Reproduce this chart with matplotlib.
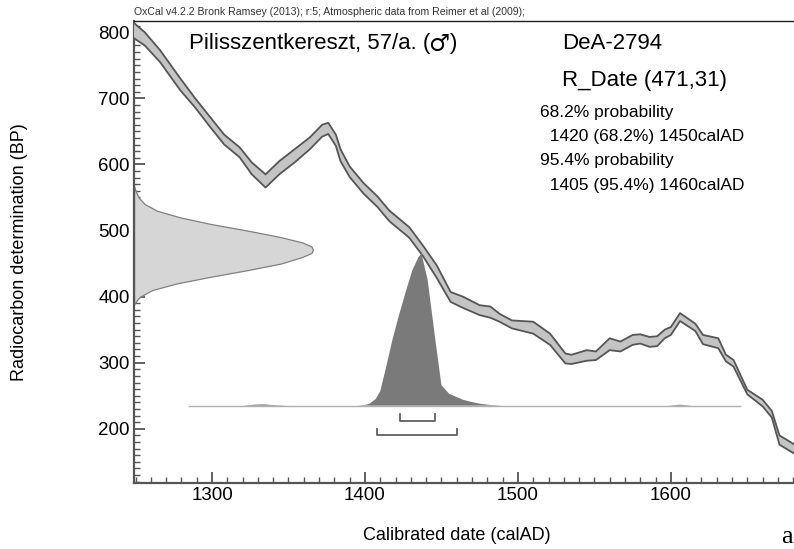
import matplotlib.pyplot as plt
from matplotlib.ticker import MultipleLocator

plt.rcParams['font.family'] = ['Liberation Sans', 'DejaVu Sans']

# calibration curve band (IntCal09)
curve_year = [1249, 1256, 1266, 1279, 1289, 1299, 1308, 1318, 1326, 1335, 1344, 1354,
              1364, 1372, 1376, 1381, 1384, 1390, 1399, 1408, 1416, 1429, 1438, 1447,
              1456, 1464, 1475, 1482, 1488, 1496, 1510, 1521, 1531, 1535, 1545, 1551,
              1560, 1567, 1575, 1580, 1586, 1591, 1596, 1600, 1606, 1616, 1621, 1631,
              1636, 1641, 1650, 1660, 1666, 1671, 1681]
curve_upper = [814, 800, 773, 731, 700, 671, 645, 626, 603, 585, 605, 623,
               641, 660, 663, 645, 623, 597, 572, 552, 530, 505, 477, 447,
               407, 400, 387, 385, 374, 364, 362, 344, 314, 312, 319, 317,
               337, 332, 342, 343, 339, 340, 350, 354, 375, 359, 342, 337,
               312, 304, 259, 244, 227, 190, 176]
curve_lower = [791, 780, 755, 713, 686, 656, 630, 611, 585, 565, 585, 603,
               623, 642, 646, 628, 605, 581, 556, 536, 514, 489, 461, 428,
               392, 383, 372, 368, 362, 352, 344, 327, 299, 298, 303, 304,
               319, 317, 327, 329, 324, 325, 337, 342, 363, 348, 328, 322,
               302, 294, 252, 234, 217, 176, 162]

# radiocarbon measurement R_Date(471,31): width in years from the axis
rdate_bp = [388, 395, 400, 410, 420, 430, 440, 450, 460, 466, 471, 476, 482,
            490, 500, 510, 520, 530, 540, 550, 560, 568]
rdate_w = [0, 2, 4, 12, 28, 50, 74, 96, 110, 116, 117, 116, 110,
           96, 74, 50, 30, 15, 7, 3, 1, 0]

# calibrated probability distribution (height in BP above its baseline)
cal_year = [1285, 1320, 1328, 1333, 1340, 1350, 1395, 1400, 1403, 1407, 1410, 1414,
            1418, 1422, 1427, 1431, 1435, 1437, 1441, 1446, 1450, 1455, 1464, 1469,
            1475, 1482, 1490, 1598, 1606, 1614, 1645]
cal_h = [0, 0, 1.5, 2, 1, 0, 0, 1, 3, 10, 22, 60,
         100, 135, 175, 205, 225, 230, 190, 100, 31, 18, 9, 6,
         3, 1, 0, 0, 1.5, 0, 0]
cal_base = 235

range68 = (1423, 1446)
range95 = (1408, 1460)

fig = plt.figure(figsize=(7.94, 5.49), dpi=100)
ax = fig.add_axes([134 / 794, 66 / 549, 660 / 794, 462 / 549])
ax.set_xlim(1249, 1680.5)
ax.set_ylim(118, 817)

# gaussian of the measurement on the y axis
x0 = 1249
ax.fill_betweenx(rdate_bp, x0, [x0 + w for w in rdate_w],
                 facecolor='#d6d6d6', edgecolor='#808080', lw=0.9, zorder=2)

# calibration curve
ax.fill_between(curve_year, curve_lower, curve_upper, facecolor='#c4c4c4',
                edgecolor='none', zorder=3)
ax.plot(curve_year, curve_upper, color='#555555', lw=1.3, zorder=4)
ax.plot(curve_year, curve_lower, color='#555555', lw=1.3, zorder=4)

# calibrated distribution
ax.fill_between(cal_year, cal_base, [cal_base + h for h in cal_h],
                facecolor='#7a7a7a', edgecolor='none', zorder=5)
ax.plot([cal_year[0], cal_year[-1]], [cal_base, cal_base], color='#b0b0b0', lw=1.0, zorder=5)

# ranges
for (a, b), ytop, ybot in [(range68, 223, 212), (range95, 200, 190)]:
    ax.plot([a, a, b, b], [ytop, ybot, ybot, ytop], color='#606060', lw=1.3, zorder=5)

# axes styling
ax.spines['right'].set_visible(False)
ax.spines['top'].set_color('#222222')
ax.spines['top'].set_linewidth(1.0)
for s in ['left', 'bottom']:
    ax.spines[s].set_color('#555555')
    ax.spines[s].set_linewidth(1.6)

ax.xaxis.set_major_locator(MultipleLocator(100))
ax.xaxis.set_minor_locator(MultipleLocator(10))
ax.yaxis.set_major_locator(MultipleLocator(100))
ax.yaxis.set_minor_locator(MultipleLocator(10))
ax.tick_params(which='both', direction='in', color='#555555', top=False, right=False)
ax.tick_params(which='major', length=8, width=1.3, labelsize=13.5, pad=3)
ax.tick_params(which='minor', length=4, width=1.0)

fig.text(20 / 794, 1 - 252 / 549, 'Radiocarbon determination (BP)', rotation=90,
         ha='center', va='center', fontsize=13)
fig.text(457 / 794, 1 - 536 / 549, 'Calibrated date (calAD)', ha='center', va='center',
         fontsize=13)
fig.text(781 / 794, 1 - 537 / 549, 'a', ha='left', va='center', fontsize=19,
         family='Liberation Serif')

fig.text(134 / 794, 1 - 12 / 549,
         'OxCal v4.2.2 Bronk Ramsey (2013); r:5; Atmospheric data from Reimer et al (2009);',
         ha='left', va='center', fontsize=7.6, color='#333333')
fig.text(189 / 794, 1 - 44 / 549, 'Pilisszentkereszt, 57/a. (', ha='left',
         va='center', fontsize=16)
# male sign drawn a bit larger and bold, then closing bracket
fig.text(428 / 794, 1 - 44 / 549, '\u2642', ha='left', va='center', fontsize=17,
         family='DejaVu Sans', weight='bold')
fig.text(450 / 794, 1 - 44 / 549, ')', ha='left', va='center', fontsize=16)
fig.text(562 / 794, 1 - 44 / 549, 'DeA-2794', ha='left', va='center', fontsize=16)
fig.text(562 / 794, 1 - 81 / 549, 'R_Date (471,31)', ha='left', va='center', fontsize=16)
info = ['68.2% probability', '  1420 (68.2%) 1450calAD',
        '95.4% probability', '  1405 (95.4%) 1460calAD']
for i, t in enumerate(info):
    fig.text(540 / 794, 1 - (112 + 24.5 * i) / 549, t, ha='left', va='center', fontsize=12.5)

fig.savefig('out.png', dpi=100)
